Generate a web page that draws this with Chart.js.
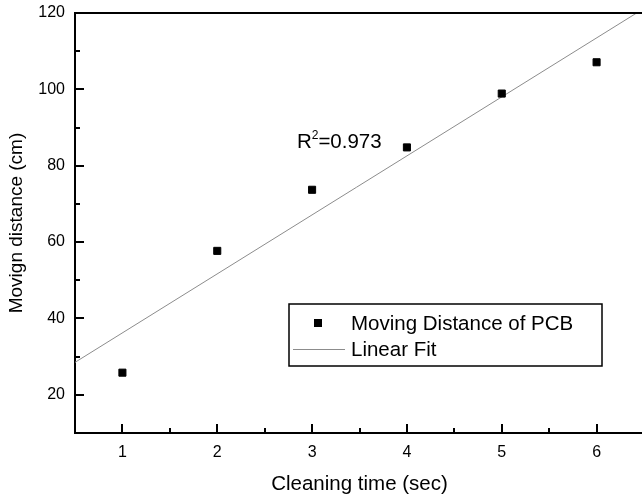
<!DOCTYPE html>
<html lang="en">
<head>
    <meta charset="UTF-8">
    <title>Moving Distance of PCB</title>
    <script src="https://cdn.jsdelivr.net/npm/chart.js"></script>
    <style>
        html, body {
            margin: 0;
            padding: 0;
            background: #fff;
            overflow: hidden;
        }
        #chart-container {
            width: 660px;
            height: 497px;
            position: relative;
        }
    </style>
</head>
<body>
    <div id="chart-container">
        <canvas id="myChart"></canvas>
    </div>

    <script>
        // measured data
        const cleaningTime = [1, 2, 3, 4, 5, 6];
        const movingDistance = [25.8, 57.7, 73.7, 84.8, 98.9, 107.1];

        // linear fit, ends read at the frame edges
        const fitX = [0.5, 6.5];
        const fitY = [28.5, 121.2];
        const rSquared = '0.973';

        const xTicks = [1, 2, 3, 4, 5, 6];
        const xMinorTicks = [1.5, 2.5, 3.5, 4.5, 5.5];
        const yTicks = [20, 40, 60, 80, 100, 120];
        const yMinorTicks = [10, 30, 50, 70, 90, 110];

        const FONT = 'Liberation Sans, Arial, sans-serif';

        // inward ticks, top frame line, R^2 text and the boxed legend
        const framePlugin = {
            id: 'frame',
            afterDraw(chart) {
                const ctx = chart.ctx;
                const area = chart.chartArea;
                const xs = chart.scales.x;
                const ys = chart.scales.y;

                ctx.save();
                ctx.strokeStyle = '#000';
                ctx.lineWidth = 2;
                ctx.beginPath();
                ctx.moveTo(area.left - 1, area.top);
                ctx.lineTo(area.right, area.top);
                ctx.stroke();

                ctx.beginPath();
                xTicks.forEach(v => {
                    const px = Math.round(xs.getPixelForValue(v));
                    ctx.moveTo(px, area.bottom);
                    ctx.lineTo(px, area.bottom - 9);
                });
                xMinorTicks.forEach(v => {
                    const px = Math.round(xs.getPixelForValue(v));
                    ctx.moveTo(px, area.bottom);
                    ctx.lineTo(px, area.bottom - 5);
                });
                yTicks.forEach(v => {
                    const py = Math.round(ys.getPixelForValue(v));
                    ctx.moveTo(area.left, py);
                    ctx.lineTo(area.left + 9, py);
                });
                yMinorTicks.forEach(v => {
                    const py = Math.round(ys.getPixelForValue(v));
                    ctx.moveTo(area.left, py);
                    ctx.lineTo(area.left + 5, py);
                });
                ctx.stroke();

                // R^2 label
                ctx.fillStyle = '#000';
                ctx.textBaseline = 'alphabetic';
                ctx.textAlign = 'left';
                let tx = xs.getPixelForValue(2.84);
                const ty = ys.getPixelForValue(84.7);
                ctx.font = '20.5px ' + FONT;
                ctx.fillText('R', tx, ty);
                tx += ctx.measureText('R').width;
                ctx.font = '12px ' + FONT;
                ctx.fillText('2', tx, ty - 9);
                tx += ctx.measureText('2').width;
                ctx.font = '20.5px ' + FONT;
                ctx.fillText('=' + rSquared, tx, ty);

                // legend box
                const lx = 289, ly = 304, lw = 313, lh = 62;
                ctx.lineWidth = 1.5;
                ctx.strokeRect(lx, ly, lw, lh);
                const ds = chart.data.datasets;
                ctx.font = '20.5px ' + FONT;
                ctx.textBaseline = 'middle';
                ctx.fillStyle = ds[0].backgroundColor;
                ctx.fillRect(lx + 25, ly + 15, 8, 8);
                ctx.fillStyle = '#000';
                ctx.fillText(ds[0].label, lx + 62, ly + 20);
                ctx.strokeStyle = ds[1].borderColor;
                ctx.lineWidth = 1;
                ctx.beginPath();
                ctx.moveTo(lx + 4, ly + 45.5);
                ctx.lineTo(lx + 56, ly + 45.5);
                ctx.stroke();
                ctx.fillText(ds[1].label, lx + 62, ly + 46);
                ctx.restore();
            }
        };

        const ctx = document.getElementById('myChart').getContext('2d');

        new Chart(ctx, {
            type: 'scatter',
            data: {
                datasets: [{
                    label: 'Moving Distance of PCB',
                    data: cleaningTime.map((x, i) => ({ x: x, y: movingDistance[i] })),
                    pointStyle: 'rect',
                    pointRadius: 5,
                    pointHoverRadius: 5,
                    borderWidth: 1,
                    borderColor: '#000',
                    backgroundColor: '#000',
                    order: 1
                }, {
                    label: 'Linear Fit',
                    type: 'line',
                    data: fitX.map((x, i) => ({ x: x, y: fitY[i] })),
                    borderColor: '#8c8c8c',
                    borderWidth: 1,
                    pointRadius: 0,
                    fill: false,
                    order: 2
                }]
            },
            options: {
                responsive: true,
                maintainAspectRatio: false,
                animation: false,
                layout: {
                    padding: { top: 13, right: 16, left: 0, bottom: 0 }
                },
                plugins: {
                    legend: { display: false },
                    tooltip: { enabled: false }
                },
                scales: {
                    x: {
                        type: 'linear',
                        min: 0.5,
                        max: 6.5,
                        afterBuildTicks: axis => {
                            axis.ticks = xTicks.map(v => ({ value: v }));
                        },
                        afterFit: axis => {
                            axis.height = 64;
                            axis.paddingLeft = 0;
                            axis.paddingRight = 0;
                        },
                        grid: { display: false, drawTicks: false },
                        border: { display: true, color: '#000', width: 2 },
                        ticks: {
                            color: '#000',
                            padding: 10,
                            maxRotation: 0,
                            font: { family: FONT, size: 16 }
                        },
                        title: {
                            display: true,
                            text: 'Cleaning time (sec)',
                            color: '#000',
                            padding: { top: 4, bottom: 0 },
                            font: { family: FONT, size: 20.5 }
                        }
                    },
                    y: {
                        min: 10,
                        max: 120,
                        afterBuildTicks: axis => {
                            axis.ticks = yTicks.map(v => ({ value: v }));
                        },
                        afterFit: axis => {
                            axis.width = 75;
                            axis.paddingTop = 0;
                            axis.paddingBottom = 0;
                        },
                        grid: { display: false, drawTicks: false },
                        border: { display: true, color: '#000', width: 2 },
                        ticks: {
                            color: '#000',
                            padding: 10,
                            font: { family: FONT, size: 16 }
                        },
                        title: {
                            display: true,
                            text: 'Movign distance (cm)',
                            color: '#000',
                            padding: { top: 5, bottom: 0 },
                            font: { family: FONT, size: 19 }
                        }
                    }
                }
            },
            plugins: [framePlugin]
        });
    </script>
</body>
</html>
